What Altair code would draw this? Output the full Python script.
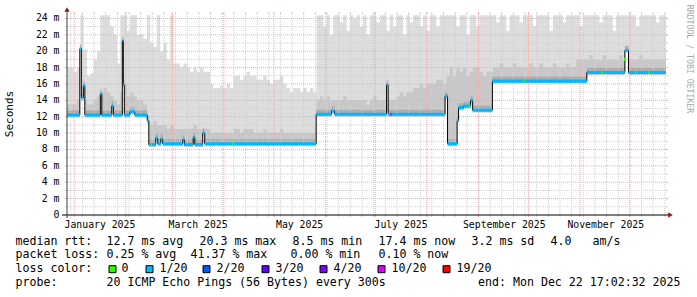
import altair as alt
import pandas as pd

# ---------------- data ----------------
T_START = "2024-12-27 17:02:32"
T_END = "2025-12-22 17:02:32"
SMOKE_STEP_DAYS = 2

# upper edge of the light smoke (ms), one value per 2-day column
smoke_top = [18, 18, 17.5, 18, 24.4, 20.2, 17, 17.3, 19, 20,
             24.4, 24.4, 24.4, 23, 22, 18.5, 24.4, 24.4, 22.5, 24.4,
             24.4, 22, 22, 21.5, 24.4, 21, 20.5, 24.4, 20, 21,
             19, 24.4, 18.5, 18.5, 18, 18.5, 18, 17.5, 18, 17.5,
             18, 17.5, 17.5, 16, 15.5, 15.5, 15.8, 15.5, 16, 15.5,
             17, 17, 16.5, 17, 17.5, 17, 17, 16.5, 16.5, 17,
             16.5, 16, 16.5, 16.5, 17, 16, 15.5, 15, 15.5, 15.5,
             15, 15.5, 15, 15.5, 15, 24.4, 24.4, 23, 24.4, 22,
             24.4, 24.4, 23.5, 24.4, 22.5, 24.4, 24, 24.4, 23, 24.4,
             22, 24.4, 24.4, 23.5, 24.4, 24.4, 22.5, 24.4, 23, 24.4,
             24.4, 22, 24.4, 23.5, 24.4, 24.4, 23, 24.4, 22.5, 24.4,
             24.4, 23, 24.4, 24.4, 24.4, 24.4, 24.4, 23, 24.4, 24.4,
             22, 24.4, 24.4, 23, 24.4, 24.4, 24.4, 24.4, 24.4, 23.5,
             24.4, 24.4, 22.5, 24.4, 24.4, 24.4, 23.5, 24.4, 24.4, 24.4,
             23, 24.4, 24.4, 24.4, 24.4, 22.5, 24.4, 24.4, 24.4, 23.5,
             24.4, 24.4, 24.4, 24.4, 23, 24.4, 24.4, 24.4, 24.4, 24.4,
             23.5, 24.4, 24.4, 24.4, 22.5, 24.4, 24.4, 24.4, 24.4, 24.4,
             24.4, 23, 24.4, 24.4, 24.4, 24.4, 24.4, 23.5, 24.4, 24.4]
# upper edge of the medium-grey smoke (ms)
smoke_mid = [13.5, 13.5, 13.5, 14, 14.5, 14, 13.5, 13.5, 14, 14.5,
             15, 15.5, 15, 14.5, 14, 13.5, 15, 16, 14.5, 15,
             14.5, 14, 14, 13.5, 11.5, 11, 11.5, 11, 11, 11,
             10.5, 11, 10.5, 10.5, 10.5, 10.5, 10.5, 10.5, 11, 10.5,
             10.5, 10.5, 10.5, 10, 10, 10, 10, 10, 10, 10,
             10.5, 10.5, 10, 10.5, 10.5, 10.5, 10, 10, 10, 10.5,
             10, 10, 10, 10, 10.5, 10, 10, 10, 10, 10,
             10, 10, 10, 10, 10, 14, 14.5, 14, 14.5, 14,
             14, 14, 14, 14.5, 14, 14, 14, 14, 14, 14,
             13.5, 14, 14.5, 14, 14, 14, 14, 14, 14, 14.5,
             15, 14.5, 15, 15, 15.5, 15.5, 16, 15.5, 16, 16,
             16, 16.5, 16.5, 16, 17, 18, 17, 18, 17.5, 18,
             17, 17.5, 18, 18, 17.5, 17, 17.5, 17.5, 18, 18,
             18.5, 18, 18, 18, 18.5, 18, 18, 18, 18, 18.5,
             18, 18, 18.5, 18, 18, 18, 18.5, 18, 18, 18,
             18.5, 18, 18, 19, 19, 19, 19, 19.5, 19, 19,
             19, 19.5, 19, 19, 19, 19, 19.5, 19, 19, 19,
             19, 19, 19.5, 19, 19, 19, 19, 19, 19, 19]

# median rtt (ms): step breakpoints
med_time = ["2024-12-27 17:02", "2025-01-04 10:00", "2025-01-05 08:00", "2025-01-06 13:00",
            "2025-01-07 10:00", "2025-01-16 18:00", "2025-01-17 15:00", "2025-01-23 15:00",
            "2025-01-24 13:00", "2025-01-29 23:00", "2025-01-30 13:00", "2025-01-31 04:00",
            "2025-02-03 11:00", "2025-02-06 11:00", "2025-02-13 23:00", "2025-02-14 21:00",
            "2025-02-19 02:00", "2025-02-20 06:00", "2025-02-22 02:00", "2025-02-23 06:00",
            "2025-03-07 07:00", "2025-03-08 05:00", "2025-03-13 14:00", "2025-03-14 12:00",
            "2025-03-19 07:00", "2025-03-20 12:00", "2025-05-26 11:00", "2025-06-04 18:00",
            "2025-06-06 14:00", "2025-07-07 19:00", "2025-07-08 17:00", "2025-08-11 22:00",
            "2025-08-13 10:00", "2025-08-19 04:00", "2025-08-20 01:00", "2025-08-23 01:00",
            "2025-08-27 07:00", "2025-08-28 12:00", "2025-09-09 09:00", "2025-11-05 03:00",
            "2025-11-28 00:00", "2025-11-30 04:00"]
med_value = [12.2, 20.3, 14.3, 15.8,
             12.2, 14.8, 12.2, 13.3,
             12.2, 21.3, 15.9, 12.2,
             12.6, 12.2, 11.5, 8.6,
             9.4, 8.7, 9.3, 8.7,
             9.2, 8.6, 9.5, 8.6,
             10.0, 8.7, 12.3, 12.7,
             12.3, 15.9, 12.3, 14.5,
             8.7, 11.5, 13.1, 13.3,
             14.0, 12.8, 16.35, 17.4,
             20.1, 17.4]

# packet-loss colour spots on the median line
spot_time = ["2025-02-16 00:00", "2025-04-06 00:00", "2025-07-10 00:00", "2025-08-26 00:00",
             "2025-09-28 00:00", "2025-11-14 00:00", "2025-11-27 12:00", "2025-12-04 00:00",
             "2025-12-12 00:00"]
spot_value = [8.6, 8.7, 12.3, 13.3, 16.35, 17.4, 19.0, 17.4, 17.4]
spot_loss = ["0", "0", "10/20", "0", "0", "0", "0", "0", "0"]

loss_names = ["0", "1/20", "2/20", "3/20", "4/20", "10/20", "19/20"]
loss_colors = ["#26ff00", "#00b8ff", "#0059ff", "#5e00ff", "#7e00ff", "#dd00ff", "#ff0000"]

y_ticks = [0, 2, 4, 6, 8, 10, 12, 14, 16, 18, 20, 22, 24]
y_tick_labels = ["0  ", "2 m", "4 m", "6 m", "8 m", "10 m", "12 m", "14 m", "16 m",
                 "18 m", "20 m", "22 m", "24 m"]
month_label_time = ["2025-01-16 12:00", "2025-03-16 12:00", "2025-05-16 12:00",
                    "2025-07-16 12:00", "2025-09-16 12:00", "2025-11-16 12:00"]
month_labels = ["January 2025", "March 2025", "May 2025", "July 2025",
                "September 2025", "November 2025"]

legend_rows = [
    [("median rtt:", 16), ("12.7 ms avg", 107), ("20.3 ms max", 200), ("8.5 ms min", 293),
     ("17.4 ms now", 379), ("3.2 ms sd", 472), ("4.0", 551), ("am/s", 593)],
    [("packet loss:", 16), ("0.25 % avg", 107), ("41.37 % max", 191), ("0.00 % min", 291),
     ("0.10 % now", 379)],
    [("loss color:", 16), ("0", 122), ("1/20", 160), ("2/20", 217), ("3/20", 276),
     ("4/20", 334), ("10/20", 392), ("19/20", 457)],
    [("probe:", 16), ("20 ICMP Echo Pings (56 Bytes) every 300s", 107)],
]
legend_row_y = [241.5, 255.3, 269.2, 282.8]
swatch_x = [109, 146, 203, 262, 320, 378, 443]
end_text = "end: Mon Dec 22 17:02:32 2025"

# ---------------- layout ----------------
PL, PT, W, H = 67, 14, 599, 201
YMAX = 24.54
MONO = "DejaVu Sans Mono"
GRID_C = "#cfcfcf"
MGRID_C = "#f3a8a8"


def ms(s):
    return int(pd.Timestamp(s, tz="UTC").value // 10**6)


t0, t1 = ms(T_START), ms(T_END)
day = 86400000

n = len(smoke_top)
smoke = pd.DataFrame({
    "t": [t0 + i * SMOKE_STEP_DAYS * day for i in range(n)] + [t1],
    "top": smoke_top + [smoke_top[-1]],
    "mid": smoke_mid + [smoke_mid[-1]],
})
med = pd.DataFrame({"t": [ms(s) for s in med_time] + [t1],
                    "v": med_value + [med_value[-1]]})
seg = pd.DataFrame({"t": [ms(s) for s in med_time],
                    "t2": [ms(s) for s in med_time[1:]] + [t1],
                    "v": med_value,
                    "c": ["#00b8ff"] * len(med_value)})
spots = pd.DataFrame({"t": [ms(s) for s in spot_time],
                      "t2": [ms(s) + 20 * 3600000 for s in spot_time],
                      "v": spot_value,
                      "c": [loss_colors[loss_names.index(l)] for l in spot_loss]})

xs = alt.Scale(type="utc", domain=[t0, t1])
ys = alt.Scale(domain=[0, YMAX], nice=False, zero=False)
X = alt.X("t:T", scale=xs, axis=None)
Y = alt.Y("v:Q", scale=ys, axis=None)

light = alt.Chart(smoke).mark_area(interpolate="step-after", color="#dddddd").encode(
    x=X, y=alt.Y("top:Q", scale=ys, axis=None))
mid = alt.Chart(smoke).mark_area(interpolate="step-after", color="#c8c8c8").encode(
    x=X, y=alt.Y("mid:Q", scale=ys, axis=None))
mask = alt.Chart(med).transform_calculate(m="datum.v - 0.3").mark_area(
    interpolate="step-after", color="white").encode(x=X, y=alt.Y("m:Q", scale=ys, axis=None))
dark = alt.Chart(med).transform_calculate(m="datum.v + 0.55").mark_area(
    interpolate="step-after", color="#9a9a9a", opacity=0.6).encode(
    x=X, y=alt.Y("m:Q", scale=ys, axis=None), y2=alt.Y2("v"))

# grid (dotted lines, plus short solid ticks outside the plot as rrdtool draws them)
weeks = pd.date_range("2024-12-30", "2025-12-22", freq="7D", tz="UTC")
months = pd.date_range("2025-01-01", "2025-12-01", freq="MS", tz="UTC")
gweek = pd.DataFrame({"t": [int(w.value // 10**6) for w in weeks]})
gmonth = pd.DataFrame({"t": [int(m.value // 10**6) for m in months]})
gminor = pd.DataFrame({"v": list(range(1, 25, 2))})
gmajor = pd.DataFrame({"v": list(range(2, 25, 2))})


def vgrid(df, c):
    return [
        alt.Chart(df).mark_rule(color=c, strokeDash=[1, 1]).encode(x=X, y=alt.value(0), y2=alt.value(H)),
        alt.Chart(df).mark_rule(color=c).encode(x=X, y=alt.value(H), y2=alt.value(H + 2)),
        alt.Chart(df).mark_rule(color=c).encode(x=X, y=alt.value(-2), y2=alt.value(0)),
    ]


def hgrid(df, c):
    return [
        alt.Chart(df).mark_rule(color=c, strokeDash=[1, 1]).encode(y=Y, x=alt.value(0), x2=alt.value(W)),
        alt.Chart(df).mark_rule(color=c).encode(y=Y, x=alt.value(-2), x2=alt.value(0)),
        alt.Chart(df).mark_rule(color=c).encode(y=Y, x=alt.value(W), x2=alt.value(W + 2)),
    ]


grid = vgrid(gweek, GRID_C) + hgrid(gminor, GRID_C) + vgrid(gmonth, MGRID_C) + hgrid(gmajor, MGRID_C)

medline = alt.Chart(med).mark_line(interpolate="step-after", color="#000000", strokeWidth=1).encode(x=X, y=Y)
band = alt.Chart(seg).transform_calculate(lo="datum.v - 0.19", hi="datum.v + 0.19").mark_rect().encode(
    x=X, x2="t2:T", y=alt.Y("lo:Q", scale=ys, axis=None), y2="hi:Q",
    color=alt.Color("c:N", scale=None))
spot = alt.Chart(spots).transform_calculate(lo="datum.v - 0.19", hi="datum.v + 0.19").mark_rect().encode(
    x=X, x2="t2:T", y=alt.Y("lo:Q", scale=ys, axis=None), y2="hi:Q",
    color=alt.Color("c:N", scale=None))

# axes
axis_df = pd.DataFrame({"v": [0]})
xaxis = alt.Chart(axis_df).mark_rule(color="#000000").encode(
    x=alt.value(-5), x2=alt.value(W + 4), y=alt.Y("v:Q", scale=ys, axis=None))
yaxis = alt.Chart(axis_df).mark_rule(color="#404040").encode(
    x=alt.value(0), y=alt.value(H + 3), y2=alt.value(-4))
xarrow = alt.Chart(axis_df).mark_point(shape="triangle-right", filled=True, size=28,
                                        color="#8b1a1a", opacity=1).encode(
    x=alt.value(W + 4.5), y=alt.Y("v:Q", scale=ys, axis=None))
yarrow = alt.Chart(axis_df).mark_point(shape="triangle-up", filled=True, size=28,
                                        color="#8b1a1a", opacity=1).encode(
    x=alt.value(0), y=alt.value(-4.5))

ylab = alt.Chart(pd.DataFrame({"v": y_ticks, "lab": [s.replace(" ", "\u00a0") for s in y_tick_labels]})).mark_text(
    align="right", baseline="middle", font=MONO, fontSize=9.8, color="#000000").encode(
    x=alt.value(-7.5), y=Y, text="lab:N")
xlab = alt.Chart(pd.DataFrame({"t": [ms(s) for s in month_label_time], "lab": month_labels})).mark_text(
    align="center", baseline="middle", font=MONO, fontSize=9.8, color="#000000").encode(
    x=X, y=alt.value(225 - PT), text="lab:N")

seconds = alt.Chart(axis_df).mark_text(text="Seconds", angle=270, font=MONO, fontSize=11,
                                      align="center", baseline="middle", color="#000000").encode(
    x=alt.value(10 - PL), y=alt.value(114 - PT))
water = alt.Chart(axis_df).mark_text(text="RRDTOOL / TOBI OETIKER", angle=90, font=MONO, fontSize=8.2,
                                    align="center", baseline="middle", color="#aaaaaa").encode(
    x=alt.value(689 - PL), y=alt.value(59 - PT))

rows = []
for r, row in enumerate(legend_rows):
    for txt, x in row:
        rows.append({"x": x - PL - 0.5, "y": legend_row_y[r] - PT, "s": txt.replace(" ", "\u00a0")})
leg = alt.Chart(pd.DataFrame(rows)).mark_text(
    align="left", baseline="middle", font=MONO, fontSize=11.6, color="#000000").encode(
    x=alt.X("x:Q", scale=None), y=alt.Y("y:Q", scale=None), text="s:N")
endt = alt.Chart(axis_df).mark_text(text=end_text, align="right", baseline="middle", font=MONO,
                                   fontSize=11.6, color="#000000").encode(
    x=alt.value(680.5 - PL), y=alt.value(legend_row_y[3] - PT))
sw = pd.DataFrame({"x": [x - PL for x in swatch_x], "c": loss_colors})
sw["x2"] = sw["x"] + 7
sw["y"] = legend_row_y[2] - PT - 3.5
sw["y2"] = legend_row_y[2] - PT + 3.5
swatches = alt.Chart(sw).mark_rect(stroke="#000000", strokeWidth=1).encode(
    x=alt.X("x:Q", scale=None), x2="x2:Q", y=alt.Y("y:Q", scale=None), y2="y2:Q",
    color=alt.Color("c:N", scale=None))

chart = alt.layer(
    light, mid, mask, dark, *grid, medline, band, spot, xaxis, yaxis, xarrow, yarrow,
    ylab, xlab, seconds, water, leg, endt, swatches
).properties(
    width=W, height=H,
    padding={"left": PL, "top": PT, "right": 697 - PL - W, "bottom": 297 - PT - H},
    autosize=alt.AutoSizeParams(type="none"),
    background="#ffffff",
).configure_view(stroke=None)

chart.save("out.html", embed_options={"renderer": "svg", "actions": False})
